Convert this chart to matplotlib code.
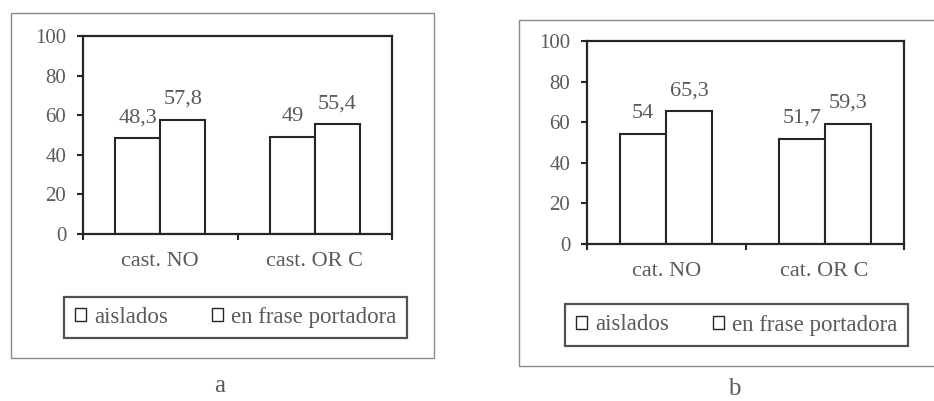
import numpy as np
import matplotlib.pyplot as plt
from matplotlib.patches import Rectangle, Patch

# datos
cats_a = ["cast. NO", "cast. OR C"]
cats_b = ["cat. NO", "cat. OR C"]
aislados_a = [48.3, 49]
frase_a = [57.8, 55.4]
aislados_b = [54, 51.7]
frase_b = [65.3, 59.3]
etiq_aislados_a = ["48,3", "49"]
etiq_frase_a = ["57,8", "55,4"]
etiq_aislados_b = ["54", "51,7"]
etiq_frase_b = ["65,3", "59,3"]
series = ["aislados", "en frase portadora"]
yticks = [0, 20, 40, 60, 80, 100]

plt.rcParams['font.family'] = ['Liberation Serif', 'DejaVu Serif']
txt = '#5a5a5a'
ink = '#262626'

W, H = 934, 401
fig = plt.figure(figsize=(W / 100, H / 100), dpi=100)


def px(x0, y0, x1, y1):
    # caja en pixeles (arriba-izquierda) -> coordenadas de figura
    return [x0 / W, (H - y1) / H, (x1 - x0) / W, (y1 - y0) / H]


def panel(box, cats, v1, v2, l1, l2, frame, leg, letra, letra_pos):
    fx0, fy0, fx1, fy1 = frame
    fig.patches.append(Rectangle((fx0 / W, (H - fy1) / H), (fx1 - fx0) / W, (fy1 - fy0) / H,
                                 transform=fig.transFigure, fill=False,
                                 edgecolor='#8a8a8a', linewidth=1.0))
    ax = fig.add_axes(px(*box))
    x = np.arange(len(cats))
    w = 0.29
    b1 = ax.bar(x - w / 2, v1, w, color='white', edgecolor=ink, linewidth=1.5)
    b2 = ax.bar(x + w / 2, v2, w, color='white', edgecolor=ink, linewidth=1.5)
    for bars, labs in ((b1, l1), (b2, l2)):
        for r, lab in zip(bars, labs):
            ax.annotate(lab, (r.get_x() + r.get_width() / 2, r.get_height()),
                        xytext=(0, 8), textcoords='offset points',
                        ha='center', va='bottom', fontsize=16, color=txt)
    ax.set_xlim(-0.5, 1.5)
    ax.set_ylim(0, 100)
    ax.set_yticks(yticks)
    ax.set_xticks(x)
    ax.set_xticklabels(cats)
    ax.set_xticks([-0.5, 0.5, 1.5], minor=True)
    ax.tick_params(axis='x', which='major', length=0, pad=13, labelsize=16, labelcolor=txt)
    ax.tick_params(axis='x', which='minor', length=4, width=1.5, color=ink)
    ax.tick_params(axis='y', length=4, width=1.5, color=ink, pad=8, labelsize=15, labelcolor=txt)
    for s in ax.spines.values():
        s.set_linewidth(1.6)
        s.set_color(ink)
    handles = [Patch(facecolor='white', edgecolor=ink, linewidth=1.0) for _ in series]
    lx0, ly0, lx1, ly1 = leg
    lg = ax.legend(handles, series, ncol=2, loc='center',
                   bbox_to_anchor=((lx0 + lx1) / 2 / W, (H - (ly0 + ly1) / 2) / H),
                   bbox_transform=fig.transFigure, fontsize=16.5, frameon=True,
                   fancybox=False, handlelength=0.5, handleheight=0.5,
                   handletextpad=0.35, columnspacing=1.9, borderpad=0.45,
                   borderaxespad=0, labelcolor=txt)
    lg.get_frame().set_edgecolor(ink)
    lg.get_frame().set_linewidth(1.6)
    fig.text(letra_pos[0] / W, (H - letra_pos[1]) / H, letra, ha='center', va='center',
             fontsize=18, color=txt)
    return ax


panel((83, 36, 392, 234), cats_a, aislados_a, frase_a, etiq_aislados_a, etiq_frase_a,
      (11, 13, 434, 358), (68, 298, 403, 337), 'a', (220, 386))
panel((587, 41, 904, 244), cats_b, aislados_b, frase_b, etiq_aislados_b, etiq_frase_b,
      (519, 20, 945, 366), (569, 305, 904, 345), 'b', (734, 389))

fig.savefig('out.png', dpi=100, facecolor='white')
